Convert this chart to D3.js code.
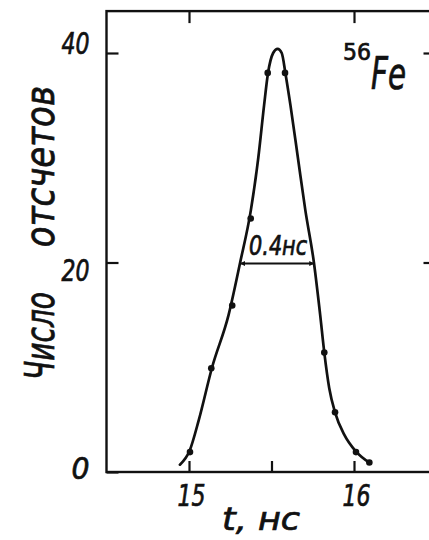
<!DOCTYPE html>
<html><head><meta charset="utf-8">
<script src="https://cdn.jsdelivr.net/npm/d3@7"></script>
<style>
body{margin:0;background:#fff}
svg{display:block}
text{font-family:"Liberation Sans Narrow","DejaVu Sans Condensed","DejaVu Sans",sans-serif;font-style:italic;fill:#111;stroke:#111;stroke-width:0.7px}
</style></head><body>
<svg id="c" width="429" height="540"></svg>
<script>
// fitted (hand-drawn) curve
const curveT = [14.945, 15.003, 15.06, 15.14, 15.24, 15.31, 15.375, 15.42, 15.455, 15.478, 15.51, 15.537, 15.562, 15.585, 15.615, 15.66, 15.705, 15.757, 15.795, 15.82, 15.85, 15.885, 15.94, 16.01, 16.093];
const curveN = [0.7, 2, 5, 10, 15, 20, 25, 30, 35, 38, 40, 40.4, 40, 38, 35, 30, 25, 20, 15, 11.4, 8, 5.7, 3.6, 2, 0.9];
// measured points
const pointT = [15.006, 15.135, 15.262, 15.374, 15.477, 15.582, 15.82, 15.885, 16.012, 16.093];
const pointN = [1.9, 9.9, 15.9, 24.2, 38.1, 38.1, 11.4, 5.7, 1.9, 0.9];
// axes
const xTicks = [15, 15.5, 16];
const xTickLabels = ["15", "", "16"];
const yTicks = [0, 20, 40];
const yTickLabels = ["0", "20", "40"];
const xTopTicks = [15, 16];
const yRightTicks = [20, 40];
// annotations
const fwhmT = [15.309, 15.759];
const fwhmLevel = 19.9;
const fwhmLabel = "0.4нс";
const isoMass = "56";
const isoSymbol = "Fe";
const xTitle = "t, нс";
const yTitleWords = ["Число", "отсчетов"];

const svg = d3.select("#c");
const x = d3.scaleLinear().domain([14.5, 16.5]).range([106.5, 436.5]);
const y = d3.scaleLinear().domain([0, 44]).range([472, 11.1]);
const ink = "#111";

// frame
svg.append("rect")
  .attr("x", x(14.5)).attr("y", y(44))
  .attr("width", x(16.5) - x(14.5)).attr("height", y(0) - y(44))
  .attr("fill", "none").attr("stroke", ink).attr("stroke-width", 2.4);

function styleAxis(g) {
  g.select(".domain").remove();
  g.selectAll(".tick line").attr("stroke", ink).attr("stroke-width", 2.2);
  g.selectAll(".tick text").attr("fill", ink).style("font-size", "31px")
    .attr("lengthAdjust", "spacingAndGlyphs")
    .attr("textLength", function () { return this.textContent.length > 1 ? 28 : 18; });
}

const gx = svg.append("g").attr("transform", `translate(0,${y(0)})`)
  .call(d3.axisBottom(x).tickValues(xTicks).tickSize(-11).tickPadding(12)
    .tickFormat((d, i) => xTickLabels[i]));
styleAxis(gx);
gx.selectAll(".tick text").attr("dx", 2);

const gxt = svg.append("g").attr("transform", `translate(0,${y(44)})`)
  .call(d3.axisTop(x).tickValues(xTopTicks).tickSize(-12).tickFormat(""));
styleAxis(gxt);

// hand-lettered labels sit slightly off their ticks
const yLabelShift = {0: -3, 20: 8, 40: -9};
const gy = svg.append("g").attr("transform", `translate(${x(14.5)},0)`)
  .call(d3.axisLeft(y).tickValues(yTicks).tickSize(-12).tickPadding(17)
    .tickFormat((d, i) => yTickLabels[i]));
styleAxis(gy);
gy.selectAll(".tick text").attr("y", d => yLabelShift[d]);

const gyr = svg.append("g").attr("transform", `translate(${x(16.5)},0)`)
  .call(d3.axisRight(y).tickValues(yRightTicks).tickSize(-13).tickFormat(""));
styleAxis(gyr);

// curve
const data = curveT.map((t, i) => ({t, n: curveN[i]}));
svg.append("path").datum(data)
  .attr("fill", "none").attr("stroke", ink).attr("stroke-width", 2.7)
  .attr("stroke-linejoin", "round").attr("stroke-linecap", "round")
  .attr("d", d3.line().x(d => x(d.t)).y(d => y(d.n)).curve(d3.curveMonotoneX));

// points
svg.append("g").selectAll("circle")
  .data(pointT.map((t, i) => ({t, n: pointN[i]})))
  .join("circle")
  .attr("cx", d => x(d.t)).attr("cy", d => y(d.n)).attr("r", 3.3).attr("fill", ink);

// FWHM arrow
const defs = svg.append("defs");
defs.append("marker").attr("id", "arr").attr("viewBox", "0 0 10 10")
  .attr("refX", 10).attr("refY", 5).attr("markerWidth", 7).attr("markerHeight", 5)
  .attr("markerUnits", "userSpaceOnUse").attr("orient", "auto-start-reverse")
  .append("path").attr("d", "M0,0 L10,5 L0,10 Z").attr("fill", ink);
svg.append("line")
  .attr("x1", x(fwhmT[0])).attr("x2", x(fwhmT[1]))
  .attr("y1", y(fwhmLevel)).attr("y2", y(fwhmLevel))
  .attr("stroke", ink).attr("stroke-width", 2)
  .attr("marker-start", "url(#arr)").attr("marker-end", "url(#arr)");
svg.append("text")
  .attr("x", (x(fwhmT[0]) + x(fwhmT[1])) / 2 + 1).attr("y", y(fwhmLevel) - 9)
  .attr("text-anchor", "middle").style("font-size", "27px")
  .attr("textLength", 58).attr("lengthAdjust", "spacingAndGlyphs")
  .text(fwhmLabel);

// isotope label
const iso = svg.append("text");
iso.append("tspan").attr("x", 343).attr("y", 60).style("font-size", "23px").style("font-style", "normal")
  .attr("textLength", 28).attr("lengthAdjust", "spacingAndGlyphs").text(isoMass);
iso.append("tspan").attr("x", 371).attr("y", 89).style("font-size", "44px")
  .attr("textLength", 35).attr("lengthAdjust", "spacingAndGlyphs").text(isoSymbol);

// x title
svg.append("text").attr("x", 222).attr("y", 530).style("font-size", "32px")
  .attr("textLength", 78).attr("lengthAdjust", "spacingAndGlyphs")
  .attr("xml:space", "preserve").text(xTitle);

// y title
const yt = svg.append("text").attr("transform", "translate(54,380) rotate(-90)").style("font-size", "40px");
yt.append("tspan").attr("x", 0).attr("y", 0)
  .attr("textLength", 88).attr("lengthAdjust", "spacingAndGlyphs").text(yTitleWords[0]);
yt.append("tspan").attr("x", 122).attr("y", 0)
  .attr("textLength", 172).attr("lengthAdjust", "spacingAndGlyphs").text(" " + yTitleWords[1]);
</script>
</body></html>
